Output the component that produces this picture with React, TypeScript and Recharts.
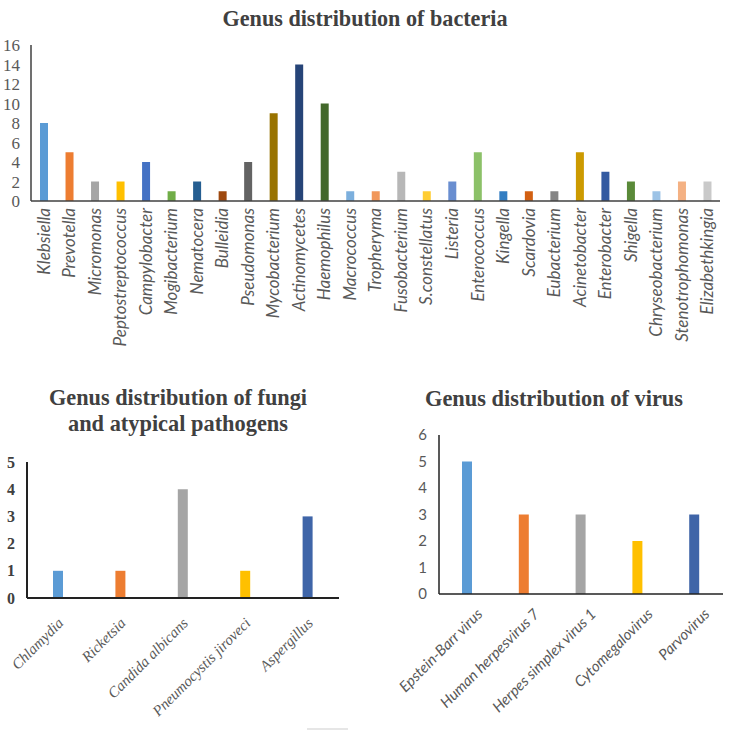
import React from "react";
import { BarChart, Bar, XAxis, YAxis, Cell } from "recharts";

// bacteria (top panel)
const bacteriaNames = [
  "Klebsiella", "Prevotella", "Micromonas", "Peptostreptococcus", "Campylobacter",
  "Mogibacterium", "Nematocera", "Bulleidia", "Pseudomonas", "Mycobacterium",
  "Actinomycetes", "Haemophilus", "Macrococcus", "Tropheryma", "Fusobacterium",
  "S.constellatus", "Listeria", "Enterococcus", "Kingella", "Scardovia",
  "Eubacterium", "Acinetobacter", "Enterobacter", "Shigella", "Chryseobacterium",
  "Stenotrophomonas", "Elizabethkingia",
];
const bacteriaCounts = [8, 5, 2, 2, 4, 1, 2, 1, 4, 9, 14, 10, 1, 1, 3, 1, 2, 5, 1, 1, 1, 5, 3, 2, 1, 2, 2];
const bacteriaColors = [
  "#5B9BD5", "#ED7D31", "#A5A5A5", "#FFC000", "#4472C4", "#70AD47", "#255E91",
  "#9E480E", "#636363", "#997300", "#264478", "#43682B", "#7CAFDD", "#F1975A",
  "#B7B7B7", "#FFCD33", "#698ED0", "#8CC168", "#327DC2", "#D26012", "#848484",
  "#CC9A00", "#335AA1", "#5A8A39", "#9DC3E6", "#F4B183", "#C9C9C9",
];
const bacteriaTicks = [0, 2, 4, 6, 8, 10, 12, 14, 16];

// fungi and atypical pathogens (bottom left)
const fungiNames = ["Chlamydia", "Ricketsia", "Candida albicans", "Pneumocystis jiroveci", "Aspergillus"];
const fungiCounts = [1, 1, 4, 1, 3];
const fungiTicks = [0, 1, 2, 3, 4, 5];

// virus (bottom right)
const virusNames = ["Epstein-Barr virus", "Human herpesvirus 7", "Herpes simplex virus 1", "Cytomegalovirus", "Parvovirus"];
const virusCounts = [5, 3, 3, 2, 3];
const virusTicks = [0, 1, 2, 3, 4, 5, 6];

const smallColors = ["#5B9BD5", "#ED7D31", "#A5A5A5", "#FFC000", "#3F65A8"];

const SERIF = "'Liberation Serif', 'Times New Roman', serif";
const SANS = "Lato, 'Open Sans', sans-serif";
const TEXT = "#595959";

const toRows = (names: string[], counts: number[]) =>
  names.map((name, i) => ({ name, value: counts[i] }));

const VerticalTick = (props: any) => {
  const { x, payload } = props;
  return (
    <g transform={`translate(${x},208)`}>
      <text
        transform="rotate(-90)"
        textAnchor="end"
        dy="0.35em"
        fontFamily={SANS}
        fontStyle="italic"
        fontSize={17}
        fill={TEXT}
      >
        {payload.value}
      </text>
    </g>
  );
};

const SlantTick = ({ x, y, payload, font, dx, dy, size }: any) => (
  <g transform={`translate(${x + dx},${y + dy})`}>
    <text transform="rotate(-45)" textAnchor="end" fontFamily={font} fontStyle="italic" fontSize={size} fill={TEXT}>
      {payload.value}
    </text>
  </g>
);

export default function App() {
  const bacteria = toRows(bacteriaNames, bacteriaCounts);
  const fungi = toRows(fungiNames, fungiCounts);
  const virus = toRows(virusNames, virusCounts);

  return (
    <div style={{ position: "absolute", left: 0, top: 0, width: 730, height: 735, background: "#fff", overflow: "hidden" }}>
      {/* titles: tall, condensed bold serif */}
      <svg width={730} height={735} style={{ position: "absolute", left: 0, top: 0 }}>
        <g fontFamily={SERIF} fontWeight="bold" fontSize={24} fill="#404040" textAnchor="middle">
          <text x={365} y={26} textLength={285} lengthAdjust="spacingAndGlyphs">Genus distribution of bacteria</text>
          <text x={178} y={405} textLength={258} lengthAdjust="spacingAndGlyphs">Genus distribution of fungi</text>
          <text x={178} y={431} textLength={220} lengthAdjust="spacingAndGlyphs">and atypical pathogens</text>
          <text x={554} y={406} textLength={258} lengthAdjust="spacingAndGlyphs">Genus distribution of virus</text>
        </g>
      </svg>

      {/* bacteria */}
      <div style={{ position: "absolute", left: 0, top: 0 }}>
        <BarChart width={730} height={360} data={bacteria} margin={{ top: 45, right: 10, bottom: 0, left: 0 }}>
          <XAxis
            dataKey="name"
            interval={0}
            height={159}
            tickLine={false}
            axisLine={{ stroke: "#404040", strokeWidth: 1.5 }}
            tick={(p: any) => <VerticalTick {...p} />}
          />
          <YAxis
            width={31}
            domain={[0, 16]}
            ticks={bacteriaTicks}
            interval={0}
            tickLine={false}
            tickMargin={5}
            axisLine={{ stroke: "#404040", strokeWidth: 1.5 }}
            tick={{ fontFamily: SERIF, fontSize: 17, fill: TEXT }}
          />
          <Bar dataKey="value" barSize={8} isAnimationActive={false}>
            {bacteria.map((_, i) => (
              <Cell key={i} fill={bacteriaColors[i]} />
            ))}
          </Bar>
        </BarChart>
      </div>

      {/* fungi */}
      <div style={{ position: "absolute", left: 0, top: 380 }}>
        <BarChart width={370} height={355} data={fungi} margin={{ top: 82, right: 31, bottom: 0, left: 0 }}>
          <XAxis
            dataKey="name"
            interval={0}
            height={137}
            tickLine={false}
            axisLine={{ stroke: "#222", strokeWidth: 2 }}
            tick={(p: any) => <SlantTick {...p} font={SERIF} size={15} dx={6} dy={18} />}
          />
          <YAxis
            width={27}
            domain={[0, 5]}
            ticks={fungiTicks}
            interval={0}
            tickLine={false}
            tickMargin={6}
            axisLine={{ stroke: "#222", strokeWidth: 2 }}
            tick={{ fontFamily: SERIF, fontWeight: "bold", fontSize: 16, fill: "#404040" }}
          />
          <Bar dataKey="value" barSize={10} isAnimationActive={false}>
            {fungi.map((_, i) => (
              <Cell key={i} fill={smallColors[i]} />
            ))}
          </Bar>
        </BarChart>
      </div>

      {/* virus */}
      <div style={{ position: "absolute", left: 370, top: 380 }}>
        <BarChart width={360} height={355} data={virus} margin={{ top: 55, right: 7, bottom: 0, left: 0 }}>
          <XAxis
            dataKey="name"
            interval={0}
            height={141}
            tickLine={false}
            axisLine={{ stroke: "#222", strokeWidth: 1.5 }}
            tick={(p: any) => <SlantTick {...p} font={SANS} size={15} dx={16} dy={13} />}
          />
          <YAxis
            width={69}
            domain={[0, 6]}
            ticks={virusTicks}
            interval={0}
            tickLine={false}
            tickMargin={6}
            axisLine={{ stroke: "#222", strokeWidth: 1.5 }}
            tick={{ fontFamily: SANS, fontSize: 15, fill: TEXT }}
          />
          <Bar dataKey="value" barSize={10} isAnimationActive={false}>
            {virus.map((_, i) => (
              <Cell key={i} fill={smallColors[i]} />
            ))}
          </Bar>
        </BarChart>
      </div>

      <div style={{ position: "absolute", left: 307, top: 728, width: 41, height: 2, background: "#e6e6e6" }} />
    </div>
  );
}
